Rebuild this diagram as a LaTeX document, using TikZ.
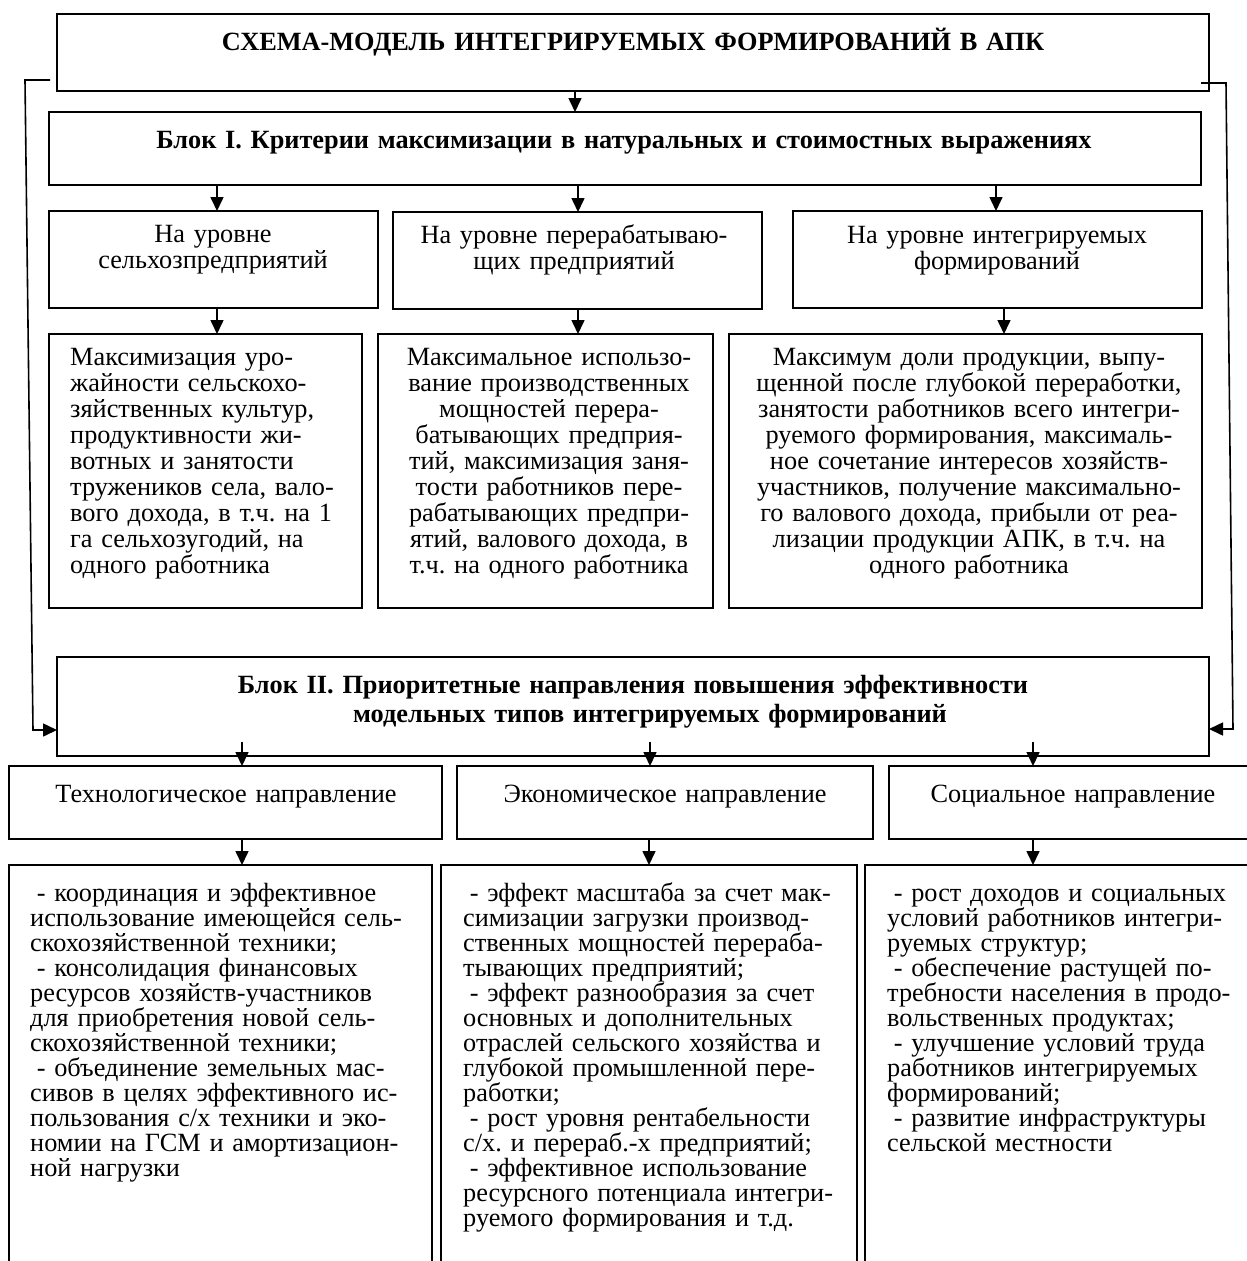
\documentclass[tikz,border=0pt]{standalone}
\usepackage{fontspec}
\setmainfont{Liberation Serif}
\usetikzlibrary{arrows.meta}
\frenchspacing
\tikzset{
  box/.style={draw, line width=1.6pt, inner sep=0pt, outer sep=0pt, anchor=north west},
  arr/.style={line width=1.6pt, -{Triangle[width=13pt,length=14pt]}},
  txt/.style={inner sep=0pt, font=\fontsize{26.3}{26}\selectfont},
  ctxt/.style={txt, align=center, anchor=base},
  ltxt/.style={txt, align=left, anchor=base west},
  ltxtb/.style={inner sep=0pt, font=\fontsize{26.3}{25}\selectfont, align=left, anchor=base west},
  btxt/.style={inner sep=0pt, font={\fontsize{26.3}{29}\selectfont\bfseries}, align=center, anchor=base},
}
\begin{document}
\begin{tikzpicture}[x=1pt,y=-1pt]
\useasboundingbox (0,0) rectangle (1247,1261);
\clip (0,0) rectangle (1247,1261);

% boxes
\node[box, minimum width=1152pt, minimum height=77pt] (title) at (57,14) {};
\node[box, minimum width=1152pt, minimum height=73pt] (b1) at (49,112) {};
\node[box, minimum width=329pt, minimum height=97pt] (a2) at (49,211) {};
\node[box, minimum width=369pt, minimum height=97pt] (b2) at (393,212) {};
\node[box, minimum width=409pt, minimum height=97pt] (c2) at (793,211) {};
\node[box, minimum width=313pt, minimum height=274pt] (a3) at (49,334) {};
\node[box, minimum width=335pt, minimum height=274pt] (b3) at (378,334) {};
\node[box, minimum width=473pt, minimum height=274pt] (c3) at (729,334) {};
\node[box, minimum width=1152pt, minimum height=99pt] (bII) at (57,657) {};
\node[box, minimum width=433pt, minimum height=73pt] (t4) at (9,766) {};
\node[box, minimum width=416pt, minimum height=73pt] (e4) at (457,766) {};
\node[box, minimum width=370pt, minimum height=73pt] (s4) at (889,766) {};
\node[box, minimum width=423pt, minimum height=450pt] (t5) at (9,865) {};
\node[box, minimum width=416pt, minimum height=450pt] (e5) at (441,865) {};
\node[box, minimum width=400pt, minimum height=450pt] (s5) at (865,865) {};

% texts
\node[btxt, text width=1100pt] (ttitle) at (633,50) {СХЕМА-МОДЕЛЬ ИНТЕГРИРУЕМЫХ ФОРМИРОВАНИЙ В АПК};
\node[btxt, text width=1100pt] (tb1) at (624,148) {Блок I. Критерии максимизации в натуральных и стоимостных выражениях};
\node[ctxt, text width=320pt] (ta2) at (213,242) {На уровне\\сельхозпредприятий};
\node[ctxt, text width=360pt] (tb2) at (574,243) {На уровне перерабатываю-\\щих предприятий};
\node[ctxt, text width=400pt] (tc2) at (997,243) {На уровне интегрируемых\\формирований};

\node[ltxt, text width=300pt] (ta3) at (70,365) {Максимизация уро-\\жайности сельскохо-\\зяйственных культур,\\продуктивности жи-\\вотных и занятости\\тружеников села, вало-\\вого дохода, в т.ч. на 1\\га сельхозугодий, на\\одного работника};
\node[ctxt, text width=400pt] (tb3) at (549,365) {Максимальное использо-\\вание производственных\\мощностей перера-\\батывающих предприя-\\тий, максимизация заня-\\тости работников пере-\\рабатывающих предпри-\\ятий, валового дохода, в\\т.ч. на одного работника};
\node[ctxt, text width=560pt] (tc3) at (969,365) {Максимум доли продукции, выпу-\\щенной после глубокой переработки,\\занятости работников всего интегри-\\руемого формирования, максималь-\\ное сочетание интересов хозяйств-\\участников, получение максимально-\\го валового дохода, прибыли от реа-\\лизации продукции АПК, в т.ч. на\\одного работника};

\node[btxt, text width=1100pt] (tII) at (633,693) {Блок II. Приоритетные направления повышения эффективности\\\hspace*{34pt}модельных типов интегрируемых формирований};

\node[ctxt, text width=420pt] (tt4) at (226,802) {Технологическое направление};
\node[ctxt, text width=410pt] (te4) at (665,802) {Экономическое направление};
\node[ctxt, text width=360pt] (ts4) at (1073,802) {Социальное направление};

\node[ltxtb, text width=420pt] (tt5) at (30,901) {\hspace*{0.25em}- координация и эффективное\\использование имеющейся сель-\\скохозяйственной техники;\\\hspace*{0.25em}- консолидация финансовых\\ресурсов хозяйств-участников\\для приобретения новой сель-\\скохозяйственной техники;\\\hspace*{0.25em}- объединение земельных мас-\\сивов в целях эффективного ис-\\пользования с/х техники и эко-\\номии на ГСМ и амортизацион-\\ной нагрузки};
\node[ltxtb, text width=420pt] (te5) at (463,901) {\hspace*{0.25em}- эффект масштаба за счет мак-\\симизации загрузки производ-\\ственных мощностей перераба-\\тывающих предприятий;\\\hspace*{0.25em}- эффект разнообразия за счет\\основных и дополнительных\\отраслей сельского хозяйства и\\глубокой промышленной пере-\\работки;\\\hspace*{0.25em}- рост уровня рентабельности\\с/х. и перераб.-х предприятий;\\\hspace*{0.25em}- эффективное использование\\ресурсного потенциала интегри-\\руемого формирования и т.д.};
\node[ltxtb, text width=400pt] (ts5) at (887,901) {\hspace*{0.25em}- рост доходов и социальных\\условий работников интегри-\\руемых структур;\\\hspace*{0.25em}- обеспечение растущей по-\\требности населения в продо-\\вольственных продуктах;\\\hspace*{0.25em}- улучшение условий труда\\работников интегрируемых\\формирований;\\\hspace*{0.25em}- развитие инфраструктуры\\сельской местности};

% connectors
\draw[arr] (title.south -| 575,0) -- (b1.north -| 575,0);
\draw[arr] (b1.south -| 217,0) -- (a2.north -| 217,0);
\draw[arr] (b1.south -| 578,0) -- (b2.north -| 578,0);
\draw[arr] (b1.south -| 996,0) -- (c2.north -| 996,0);
\draw[arr] (a2.south -| 217,0) -- (a3.north -| 217,0);
\draw[arr] (b2.south -| 578,0) -- (b3.north -| 578,0);
\draw[arr] (c2.south -| 1004,0) -- (c3.north -| 1004,0);
\draw[arr] (bII.south -| 242,0) ++(0,-14) -- (t4.north -| 242,0);
\draw[arr] (bII.south -| 650,0) ++(0,-14) -- (e4.north -| 650,0);
\draw[arr] (bII.south -| 1033,0) ++(0,-14) -- (s4.north -| 1033,0);
\draw[arr] (t4.south -| 242,0) -- (t5.north -| 242,0);
\draw[arr] (e4.south -| 649,0) -- (e5.north -| 649,0);
\draw[arr] (s4.south -| 1033,0) -- (s5.north -| 1033,0);
\draw[arr] (title.south west) ++(-7,-11) -- (25,80) -- (33,730) -- (bII.west |- 0,730);
\draw[arr] (title.south east) ++(-8,-8) -- (1226,83) -- (1233,729) -- (bII.east |- 0,729);
\end{tikzpicture}
\end{document}
